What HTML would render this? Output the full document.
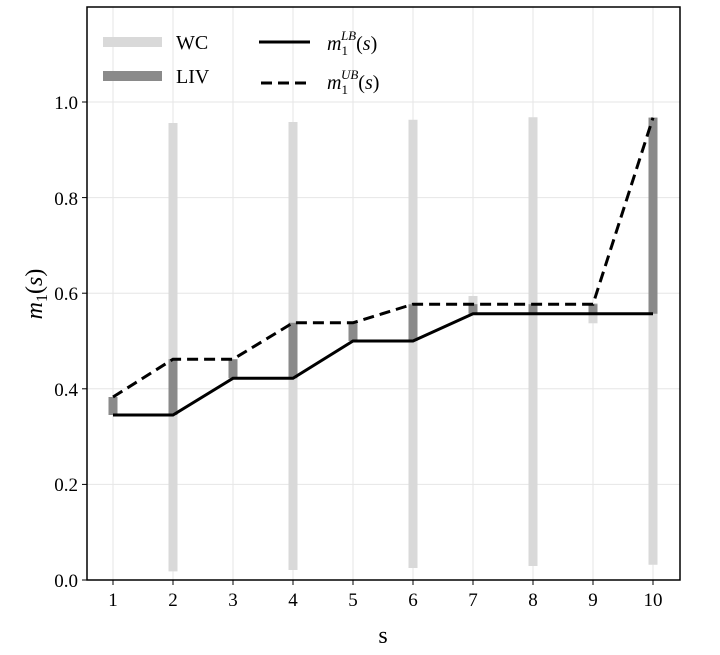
<!DOCTYPE html>
<html><head><meta charset="utf-8"><style>body{margin:0;background:#fff}svg{display:block}</style></head>
<body>
<svg width="720" height="655" xmlns="http://www.w3.org/2000/svg" font-family="Liberation Serif, serif">
<g stroke="#e6e6e6" stroke-width="1">
<line x1="113" y1="7" x2="113" y2="580"/><line x1="173" y1="7" x2="173" y2="580"/><line x1="233" y1="7" x2="233" y2="580"/><line x1="293" y1="7" x2="293" y2="580"/><line x1="353" y1="7" x2="353" y2="580"/><line x1="413" y1="7" x2="413" y2="580"/><line x1="473" y1="7" x2="473" y2="580"/><line x1="533" y1="7" x2="533" y2="580"/><line x1="593" y1="7" x2="593" y2="580"/><line x1="653" y1="7" x2="653" y2="580"/>
<line x1="87" y1="484.4" x2="680" y2="484.4"/><line x1="87" y1="388.8" x2="680" y2="388.8"/><line x1="87" y1="293.2" x2="680" y2="293.2"/><line x1="87" y1="197.6" x2="680" y2="197.6"/><line x1="87" y1="102" x2="680" y2="102"/>
</g>
<g stroke="#d9d9d9" stroke-width="9">
<line x1="173" y1="571.4" x2="173" y2="123"/>
<line x1="293" y1="570" x2="293" y2="122"/>
<line x1="413" y1="568" x2="413" y2="119.7"/>
<line x1="533" y1="566" x2="533" y2="117.3"/>
<line x1="653" y1="564.7" x2="653" y2="117.3"/>
<line x1="473" y1="312" x2="473" y2="296"/>
<line x1="593" y1="323.3" x2="593" y2="303"/>
</g>
<g stroke="#8a8a8a" stroke-width="9">
<line x1="113" y1="415" x2="113" y2="397"/>
<line x1="173" y1="415" x2="173" y2="359.2"/>
<line x1="233" y1="378.3" x2="233" y2="359.2"/>
<line x1="293" y1="378.3" x2="293" y2="322.8"/>
<line x1="353" y1="341" x2="353" y2="322.8"/>
<line x1="413" y1="341" x2="413" y2="304.2"/>
<line x1="473" y1="313.8" x2="473" y2="304.2"/>
<line x1="533" y1="313.8" x2="533" y2="304.2"/>
<line x1="593" y1="313.8" x2="593" y2="304.2"/>
<line x1="653" y1="313.8" x2="653" y2="117.7"/>
</g>
<polyline fill="none" stroke="#000" stroke-width="3" points="113,415 173,415 233,378.3 293,378.3 353,341 413,341 473,313.8 533,313.8 593,313.8 653,313.8"/>
<polyline fill="none" stroke="#000" stroke-width="3" stroke-dasharray="11,6" points="113,397 173,359.2 233,359.2 293,322.8 353,322.8 413,304.2 473,304.2 533,304.2 593,304.2 653,117.7"/>
<rect x="87" y="7" width="593" height="573" fill="none" stroke="#000" stroke-width="1.5"/>
<g stroke="#000" stroke-width="1">
<line x1="82" y1="580" x2="87" y2="580"/><line x1="82" y1="484.4" x2="87" y2="484.4"/><line x1="82" y1="388.8" x2="87" y2="388.8"/><line x1="82" y1="293.2" x2="87" y2="293.2"/><line x1="82" y1="197.6" x2="87" y2="197.6"/><line x1="82" y1="102" x2="87" y2="102"/>
<line x1="113" y1="580" x2="113" y2="585"/><line x1="173" y1="580" x2="173" y2="585"/><line x1="233" y1="580" x2="233" y2="585"/><line x1="293" y1="580" x2="293" y2="585"/><line x1="353" y1="580" x2="353" y2="585"/><line x1="413" y1="580" x2="413" y2="585"/><line x1="473" y1="580" x2="473" y2="585"/><line x1="533" y1="580" x2="533" y2="585"/><line x1="593" y1="580" x2="593" y2="585"/><line x1="653" y1="580" x2="653" y2="585"/>
</g>
<g font-size="19" text-anchor="end">
<text x="78" y="587">0.0</text><text x="78" y="491">0.2</text><text x="78" y="396">0.4</text><text x="78" y="300">0.6</text><text x="78" y="205">0.8</text><text x="78" y="109">1.0</text>
</g>
<g font-size="19" text-anchor="middle">
<text x="113" y="606">1</text><text x="173" y="606">2</text><text x="233" y="606">3</text><text x="293" y="606">4</text><text x="353" y="606">5</text><text x="413" y="606">6</text><text x="473" y="606">7</text><text x="533" y="606">8</text><text x="593" y="606">9</text><text x="653" y="606">10</text>
<text x="383" y="643" font-size="24">s</text>
</g>
<text transform="translate(42,294) rotate(-90)" font-size="24" text-anchor="middle"><tspan font-style="italic">m</tspan><tspan font-size="16" dy="5">1</tspan><tspan dy="-5">(</tspan><tspan font-style="italic">s</tspan>)</text>
<line x1="103" y1="42" x2="162" y2="42" stroke="#d9d9d9" stroke-width="10"/>
<line x1="103" y1="76" x2="162" y2="76" stroke="#8a8a8a" stroke-width="10"/>
<text x="176" y="49" font-size="20">WC</text>
<text x="176" y="83" font-size="20">LIV</text>
<line x1="259" y1="42" x2="310" y2="42" stroke="#000" stroke-width="3"/>
<line x1="261" y1="83" x2="310" y2="83" stroke="#000" stroke-width="3" stroke-dasharray="11,6"/>
<text x="327" y="50" font-size="20"><tspan font-style="italic">m</tspan><tspan font-size="13" dy="5">1</tspan><tspan font-size="13" font-style="italic" dx="-7" dy="-15">LB</tspan><tspan dy="10">(</tspan><tspan font-style="italic">s</tspan>)</text>
<text x="327" y="89" font-size="20"><tspan font-style="italic">m</tspan><tspan font-size="13" dy="5">1</tspan><tspan font-size="13" font-style="italic" dx="-7" dy="-15">UB</tspan><tspan dy="10">(</tspan><tspan font-style="italic">s</tspan>)</text>
</svg>
</body></html>
